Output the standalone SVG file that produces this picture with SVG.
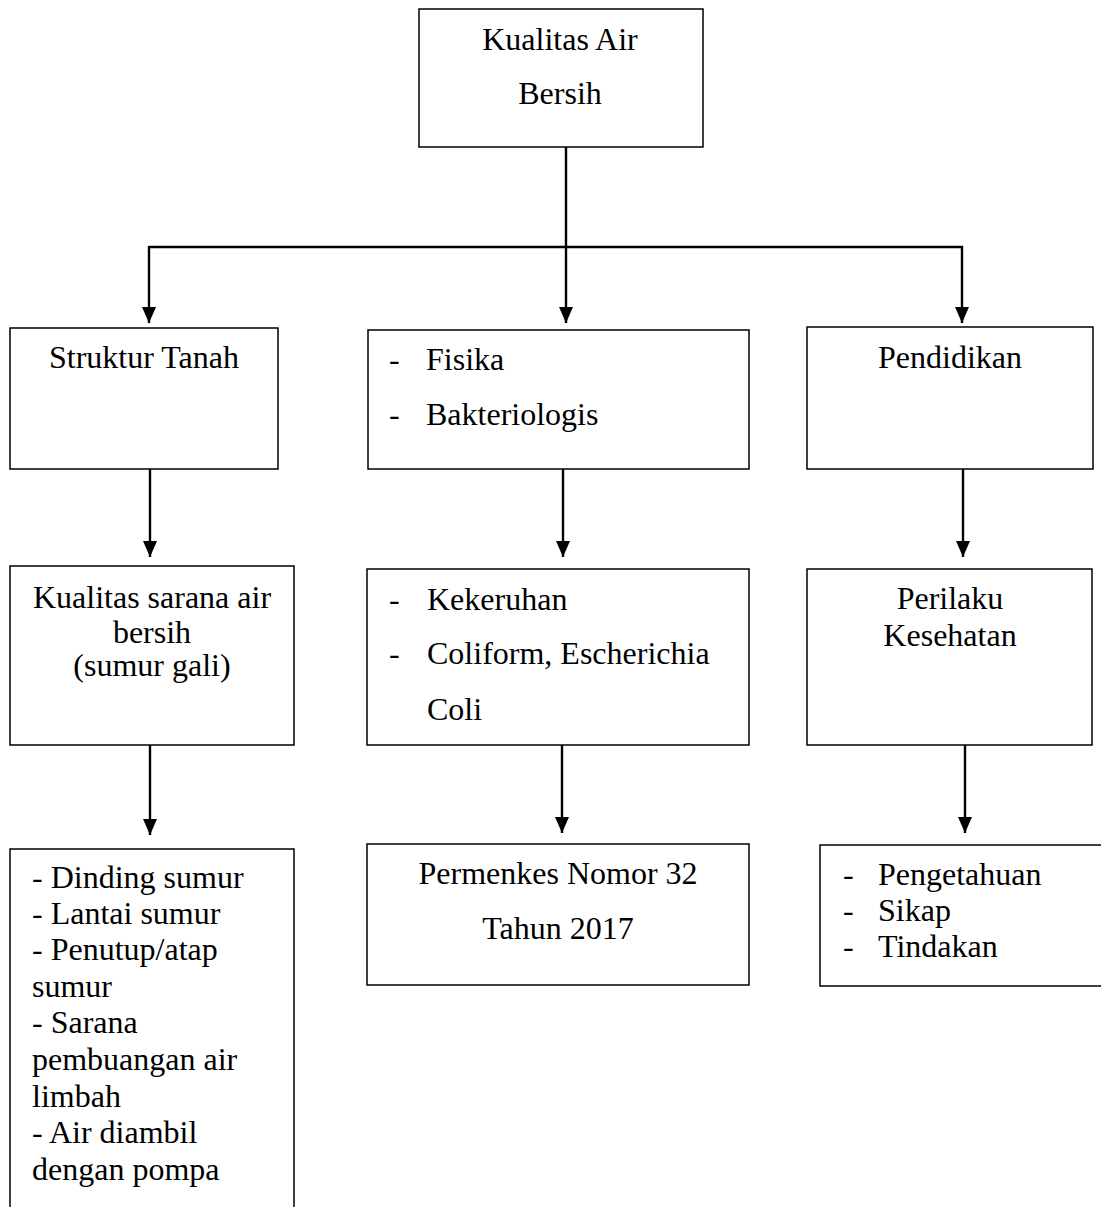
<svg xmlns="http://www.w3.org/2000/svg" width="1101" height="1207" viewBox="0 0 1101 1207">
<style>
.box{fill:#fff;stroke:#000;stroke-width:1.5}
.con{fill:none;stroke:#000;stroke-width:2.4}
text{font-family:"Liberation Serif","Times New Roman",serif;font-size:32px;fill:#000}
.c{text-anchor:middle}
</style>
<defs>
<marker id="ah" markerUnits="userSpaceOnUse" markerWidth="17" markerHeight="17" viewBox="0 0 17 17" refX="16" refY="8.5" orient="auto">
<path d="M0,1.5 L16,8.5 L0,15.5 Z" fill="#000"/>
</marker>
</defs>
<rect width="1101" height="1207" fill="#fff"/>
<g id="connectors">
<line class="con" x1="566" y1="147" x2="566" y2="323" marker-end="url(#ah)"/>
<polyline class="con" points="149,247 962,247 962,323" marker-end="url(#ah)"/>
<line class="con" x1="149" y1="246" x2="149" y2="323" marker-end="url(#ah)"/>
<line class="con" x1="150" y1="469" x2="150" y2="557" marker-end="url(#ah)"/>
<line class="con" x1="563" y1="469" x2="563" y2="557" marker-end="url(#ah)"/>
<line class="con" x1="963" y1="469" x2="963" y2="557" marker-end="url(#ah)"/>
<line class="con" x1="150" y1="745" x2="150" y2="835" marker-end="url(#ah)"/>
<line class="con" x1="562" y1="745" x2="562" y2="833" marker-end="url(#ah)"/>
<line class="con" x1="965" y1="745" x2="965" y2="833" marker-end="url(#ah)"/>
</g>
<g id="n-top">
<rect class="box" x="419" y="9" width="284" height="138"/>
<text class="c" x="560" y="50">Kualitas Air</text>
<text class="c" x="560" y="104">Bersih</text>
</g>
<g id="n-struktur">
<rect class="box" x="10" y="328" width="268" height="141"/>
<text class="c" x="144" y="368">Struktur Tanah</text>
</g>
<g id="n-fisika">
<rect class="box" x="368" y="330" width="381" height="139"/>
<text x="389" y="370">-</text><text x="426" y="370">Fisika</text>
<text x="389" y="425">-</text><text x="426" y="425">Bakteriologis</text>
</g>
<g id="n-pendidikan">
<rect class="box" x="807" y="327" width="286" height="142"/>
<text class="c" x="950" y="368">Pendidikan</text>
</g>
<g id="n-sarana">
<rect class="box" x="10" y="566" width="284" height="179"/>
<text class="c" x="152" y="608">Kualitas sarana air</text>
<text class="c" x="152" y="643">bersih</text>
<text class="c" x="152" y="676">(sumur gali)</text>
</g>
<g id="n-kekeruhan">
<rect class="box" x="367" y="569" width="382" height="176"/>
<text x="389" y="610">-</text><text x="427" y="610">Kekeruhan</text>
<text x="389" y="664">-</text><text x="427" y="664">Coliform, Escherichia</text>
<text x="427" y="720">Coli</text>
</g>
<g id="n-perilaku">
<rect class="box" x="807" y="569" width="285" height="176"/>
<text class="c" x="950" y="609">Perilaku</text>
<text class="c" x="950" y="646">Kesehatan</text>
</g>
<g id="n-dinding">
<path class="box" d="M10,1210 L10,849 L294,849 L294,1210"/>
<text x="32" y="888">- Dinding sumur</text>
<text x="32" y="924">- Lantai sumur</text>
<text x="32" y="960">- Penutup/atap</text>
<text x="32" y="997">sumur</text>
<text x="32" y="1033">- Sarana</text>
<text x="32" y="1070">pembuangan air</text>
<text x="32" y="1107">limbah</text>
<text x="32" y="1143">- Air diambil</text>
<text x="32" y="1180">dengan pompa</text>
</g>
<g id="n-permenkes">
<rect class="box" x="367" y="844" width="382" height="141"/>
<text class="c" x="558" y="884">Permenkes Nomor 32</text>
<text class="c" x="558" y="939">Tahun 2017</text>
</g>
<g id="n-pengetahuan">
<path class="box" d="M1110,845 L820,845 L820,986 L1110,986"/>
<text x="843" y="885">-</text><text x="878" y="885">Pengetahuan</text>
<text x="843" y="921">-</text><text x="878" y="921">Sikap</text>
<text x="843" y="957">-</text><text x="878" y="957">Tindakan</text>
</g>
</svg>
